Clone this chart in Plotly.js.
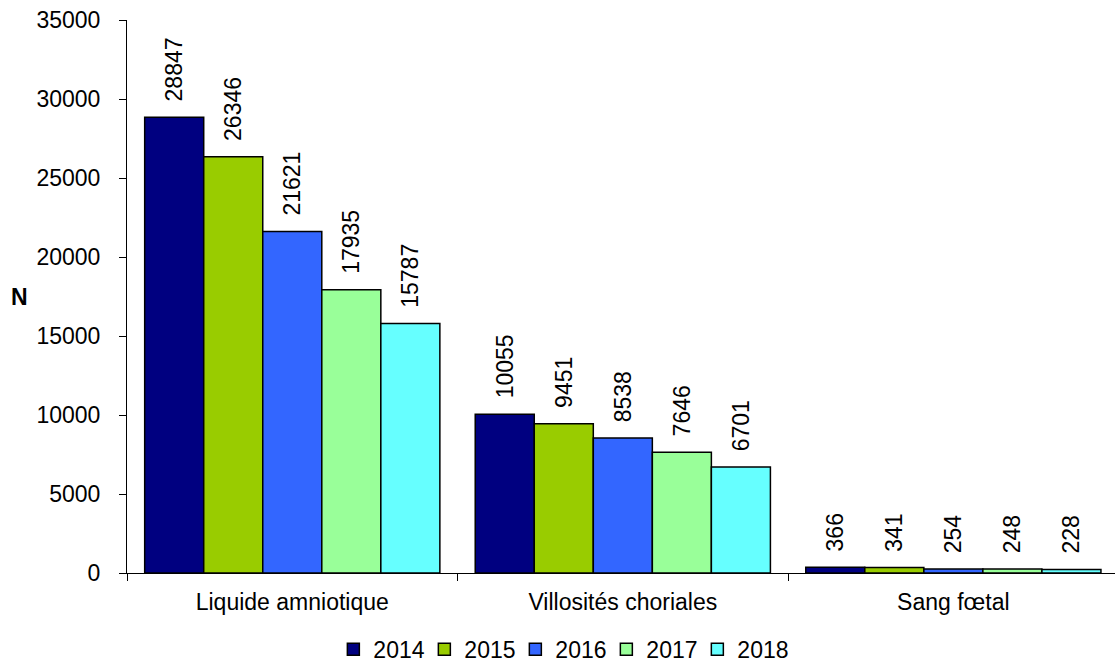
<!DOCTYPE html>
<html>
<head>
<meta charset="utf-8">
<script src="https://cdn.plot.ly/plotly-3.0.1.min.js"></script>
<style>html,body{margin:0;padding:0;background:#fff;}#chart{width:1115px;height:664px;}</style>
</head>
<body>
<div id="chart"></div>
<script>
const categories = ["Liquide amniotique", "Villosités choriales", "Sang fœtal"];
const years = ["2014", "2015", "2016", "2017", "2018"];
const values2014 = [28847, 10055, 366];
const values2015 = [26346, 9451, 341];
const values2016 = [21621, 8538, 254];
const values2017 = [17935, 7646, 248];
const values2018 = [15787, 6701, 228];
const seriesValues = [values2014, values2015, values2016, values2017, values2018];
const colors = ["#000080", "#99CC00", "#3366FF", "#99FF99", "#66FFFF"];
const yTicks = [0, 5000, 10000, 15000, 20000, 25000, 30000, 35000];

const FONT = "Liberation Sans, Arial, sans-serif";
const FS = 23;
const pad = "\u00a0\u00a0";

const traces = years.map((yr, i) => ({
  type: "bar",
  name: yr,
  x: categories,
  y: seriesValues[i],
  marker: {color: colors[i], line: {color: "#000000", width: 1.5}},
  text: seriesValues[i].map(v => pad + v),
  texttemplate: "%{text}",
  textposition: "outside",
  textangle: -90,
  constraintext: "none",
  cliponaxis: false,
  textfont: {family: FONT, size: FS, color: "#000"},
  hoverinfo: "x+y+name"
}));

const layout = {
  width: 1115,
  height: 664,
  margin: {l: 127, r: 0, t: 20, b: 91, pad: 0},
  paper_bgcolor: "#ffffff",
  plot_bgcolor: "#ffffff",
  font: {family: FONT, size: FS, color: "#000"},
  barmode: "group",
  bargap: 0.107,
  bargroupgap: 0,
  showlegend: true,
  legend: {
    orientation: "h",
    xref: "container", yref: "container",
    x: 0.503, xanchor: "center",
    y: 0.022, yanchor: "middle",
    font: {family: FONT, size: FS, color: "#000"},
    itemwidth: 30,
    entrywidth: 46,
    entrywidthmode: "pixels",
    traceorder: "normal"
  },
  annotations: [{
    text: "<b>N</b>",
    xref: "paper", yref: "paper",
    x: 0, y: 0.5,
    xanchor: "center", yanchor: "middle",
    xshift: -108,
    showarrow: false,
    font: {family: FONT, size: FS, color: "#000"}
  }],
  xaxis: {
    type: "category",
    range: [-0.5, 2.489],
    showline: true, linecolor: "#000", linewidth: 1,
    ticks: "outside", tickson: "boundaries", ticklen: 7, tickcolor: "#000", tickwidth: 1,
    showgrid: false, zeroline: false,
    ticklabelstandoff: 8,
    tickfont: {family: FONT, size: FS, color: "#000"},
    automargin: false
  },
  yaxis: {
    range: [0, 35000],
    tickvals: yTicks,
    ticktext: yTicks.map(String),
    showline: true, linecolor: "#000", linewidth: 1,
    ticks: "outside", ticklen: 7, tickcolor: "#000", tickwidth: 1,
    showgrid: false, zeroline: false,
    ticklabelstandoff: 14,
    tickfont: {family: FONT, size: FS, color: "#000"},
    automargin: false
  }
};

Plotly.newPlot("chart", traces, layout, {displayModeBar: false, staticPlot: true});
</script>
</body>
</html>
